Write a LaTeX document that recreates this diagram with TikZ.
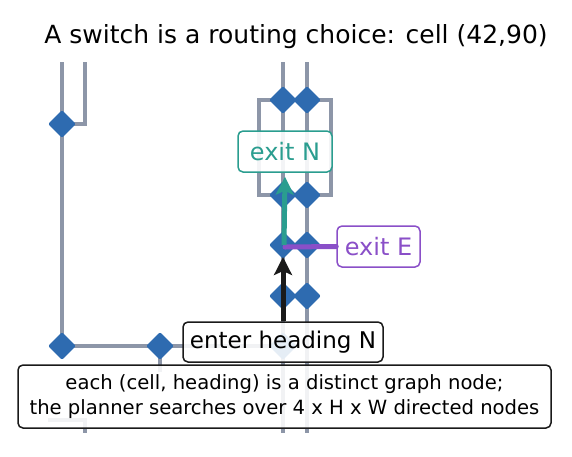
\documentclass[tikz,border=0pt]{standalone}
\usepackage{fontspec}
\setmainfont{DejaVu Sans}
\usetikzlibrary{shapes.geometric,arrows.meta}
\definecolor{gridgray}{HTML}{8D96A8}
\definecolor{dblue}{HTML}{2E6BB0}
\definecolor{tealc}{HTML}{2A9D8F}
\definecolor{purp}{HTML}{8A4FC8}
\definecolor{inkc}{HTML}{1A1A1A}
\begin{document}
\begin{tikzpicture}[x=1pt,y=-1pt,
  sw/.style={diamond,fill=dblue,minimum width=28pt,minimum height=28pt,inner sep=0pt,aspect=1,rounded corners=2pt},
  track/.style={draw=gridgray,line width=4pt},
  note/.style={draw=inkc,line width=1.5pt,rounded corners=5pt,fill=white,fill opacity=0.88,text opacity=1,align=center,inner sep=0pt},
  hint/.style={draw=#1,line width=1.5pt,rounded corners=5pt,fill=white,fill opacity=0.9,text opacity=1,text=#1,inner sep=0pt},
  move/.style={line width=5pt,draw=#1},
  tip/.style={-{Stealth[length=18pt,width=18pt,inset=4pt]}}]
\useasboundingbox (0,0) rectangle (572,456);
\node[font={\fontsize{25}{30}\selectfont}] (title) at (296,37) {A switch is a routing choice: cell (42,90)};
\begin{scope}
\clip (0,62) rectangle (572,432);
% coordinates of the track layout
\coordinate (l1t) at (62,40);
\coordinate (l2t) at (85,40);
\coordinate (l2b) at (85,124);
\coordinate (lb1) at (48,420);
\coordinate (lb2) at (85,420);
\coordinate (lb3) at (85,440);
\coordinate (at) at (283,40);
\coordinate (ab) at (283,440);
\coordinate (bt) at (307,40);
\coordinate (bb) at (307,440);
\coordinate (ltop) at (259,100);
\coordinate (lbot) at (259,195);
\coordinate (rtop) at (331,100);
\coordinate (rbot) at (331,195);
\coordinate (cdn) at (160,372);
% tracks
\draw[track] (l1t) -- (62,346);
\draw[track] (l2t) -- (l2b) -- (62,124);
\draw[track] (62,346) -- (283,346);
\draw[track] (160,346) -- (cdn);
\draw[track] (lb1) -- (lb2) -- (lb3);
\draw[track] (at) -- (ab);
\draw[track] (bt) -- (bb);
\draw[track] (283,100) -- (ltop) -- (lbot) -- (283,195);
\draw[track] (307,100) -- (rtop) -- (rbot) -- (307,195);
% switch nodes
\node[sw] (ta) at (283,49) {};
\node[sw] (tb) at (307,49) {};
\node[sw] (lA) at (62,124) {};
\node[sw] (lB) at (62,346) {};
\node[sw] (lC) at (160,346) {};
\node[sw] (a1) at (283,100) {};
\node[sw] (b1) at (307,100) {};
\node[sw] (a2) at (283,195) {};
\node[sw] (b2) at (307,195) {};
\node[sw] (a3) at (283,245) {};
\node[sw] (b3) at (307,245) {};
\node[sw] (a4) at (283,296) {};
\node[sw] (b4) at (307,296) {};
\node[sw] (a5) at (283,346) {};
\end{scope}
% labels
\node[hint=tealc,minimum width=94pt,minimum height=41pt,font={\fontsize{24}{28}\selectfont}] (exitN) at (285,151.5) {exit N};
\node[hint=purp,minimum width=83pt,minimum height=41pt,font={\fontsize{24}{28}\selectfont}] (exitE) at (378.5,246.5) {exit E};
\node[note,minimum width=200pt,minimum height=40pt,font={\fontsize{23}{27}\selectfont}] (enter) at (283,342) {enter heading N};
\node[note,minimum width=533pt,minimum height=63pt,font={\fontsize{19.6}{25}\selectfont}] (info) at (284.5,396.5) {each (cell, heading) is a distinct graph node;\\ the planner searches over 4 x H x W directed nodes};
% moves
\draw[move=purp,line cap=round] ([xshift=2pt,yshift=-2pt]a3.center) -- (exitE.west);
\draw[move=tealc,tip] ([xshift=1pt]a3.center) -- ([yshift=-4pt]exitN.south);
\draw[move=inkc,tip] (enter.north) -- ([yshift=-12pt]a3.center);
\end{tikzpicture}
\end{document}
